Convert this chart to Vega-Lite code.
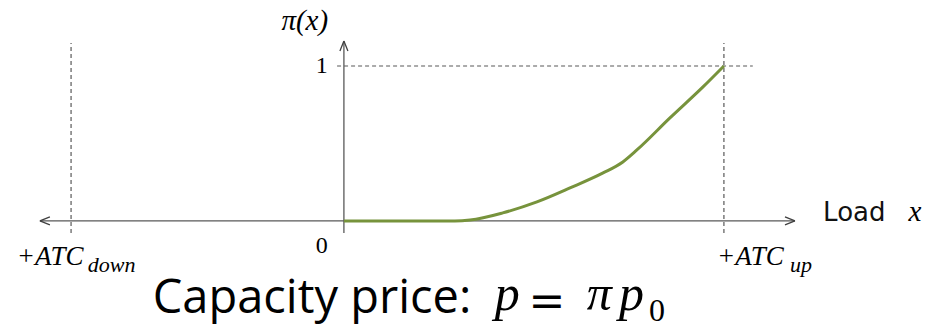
{
  "$schema": "https://vega.github.io/schema/vega-lite/v6.json",
  "width": 939,
  "height": 324,
  "autosize": "none",
  "padding": 0,
  "background": "white",
  "config": {"view": {"stroke": null}},
  "datasets": {
    "axes": [
      {"x": -0.8, "x2": 1.187, "y": 0, "y2": 0},
      {"x": 0, "x2": 0, "y": -0.077, "y2": 1.161}
    ],
    "dashes": [
      {"x": -0.718, "x2": -0.718, "y": -0.077, "y2": 1.148},
      {"x": 1, "x2": 1, "y": -0.077, "y2": 1.148},
      {"x": -0.018, "x2": 1.076, "y": 1, "y2": 1}
    ],
    "curve": [
      {"x": 0, "y": 0},
      {"x": 0.292, "y": 0},
      {"x": 0.332, "y": 0.006},
      {"x": 0.418, "y": 0.052},
      {"x": 0.508, "y": 0.123},
      {"x": 0.595, "y": 0.213},
      {"x": 0.682, "y": 0.31},
      {"x": 0.734, "y": 0.381},
      {"x": 0.771, "y": 0.458},
      {"x": 0.858, "y": 0.665},
      {"x": 0.945, "y": 0.865},
      {"x": 1, "y": 1}
    ],
    "arrowLeft": [{"x": -0.8, "y": 0}],
    "arrowRight": [{"x": 1.187, "y": 0}],
    "arrowUp": [{"x": 0, "y": 1.161}],
    "mathCenter": [
      {"x": -0.103, "y": 1.23, "t": "π(x)"},
      {"x": 1.503, "y": 0, "t": "x"}
    ],
    "mathLeft": [
      {"x": -0.861, "y": -0.284, "t": "+ATC"},
      {"x": 0.982, "y": -0.284, "t": "+ATC"}
    ],
    "subs": [
      {"x": -0.674, "y": -0.329, "t": "down"},
      {"x": 1.174, "y": -0.329, "t": "up"}
    ],
    "digits": [
      {"x": -0.058, "y": 0.955, "t": "1"},
      {"x": -0.058, "y": -0.21, "t": "0"}
    ],
    "load": [{"x": 1.261, "y": 0, "t": "Load"}],
    "caption": [{"x": -0.503, "y": -0.594, "t": "Capacity price:"}],
    "formula": [
      {"x": 0.397, "y": -0.574, "t": "p"},
      {"x": 0.639, "y": -0.574, "t": "π"},
      {"x": 0.724, "y": -0.574, "t": "p"}
    ],
    "equals": [{"x": 0.534, "y": -0.613, "t": "="}],
    "formulaSub": [{"x": 0.803, "y": -0.645, "t": "0"}]
  },
  "encoding": {
    "x": {"field": "x", "type": "quantitative", "scale": {"domain": [-0.905, 1.566], "nice": false, "zero": false}, "axis": null},
    "y": {"field": "y", "type": "quantitative", "scale": {"domain": [-0.665, 1.426], "nice": false, "zero": false}, "axis": null}
  },
  "layer": [
    {
      "data": {"name": "axes"},
      "mark": {"type": "rule", "color": "#595959", "strokeWidth": 1.3},
      "encoding": {"x2": {"field": "x2"}, "y2": {"field": "y2"}}
    },
    {
      "data": {"name": "dashes"},
      "mark": {"type": "rule", "color": "#595959", "strokeWidth": 1.2, "strokeDash": [4, 3]},
      "encoding": {"x2": {"field": "x2"}, "y2": {"field": "y2"}}
    },
    {
      "data": {"name": "curve"},
      "mark": {"type": "line", "color": "#77933C", "strokeWidth": 3, "interpolate": "monotone"}
    },
    {
      "data": {"name": "arrowLeft"},
      "mark": {"type": "point", "shape": "M0,0L1,-0.4M0,0L1,0.4", "size": 400, "filled": false, "stroke": "#404040", "strokeWidth": 1.3, "angle": 0, "opacity": 1}
    },
    {
      "data": {"name": "arrowRight"},
      "mark": {"type": "point", "shape": "M0,0L1,-0.4M0,0L1,0.4", "size": 400, "filled": false, "stroke": "#404040", "strokeWidth": 1.3, "angle": 180, "opacity": 1}
    },
    {
      "data": {"name": "arrowUp"},
      "mark": {"type": "point", "shape": "M0,0L1,-0.4M0,0L1,0.4", "size": 400, "filled": false, "stroke": "#404040", "strokeWidth": 1.3, "angle": 90, "opacity": 1}
    },
    {
      "data": {"name": "mathCenter"},
      "mark": {"type": "text", "font": "Liberation Serif", "fontStyle": "italic", "fontSize": 29, "color": "#000", "align": "center", "baseline": "alphabetic"},
      "encoding": {"text": {"field": "t"}}
    },
    {
      "data": {"name": "mathLeft"},
      "mark": {"type": "text", "font": "Liberation Serif", "fontStyle": "italic", "fontSize": 27, "color": "#000", "align": "left", "baseline": "alphabetic"},
      "encoding": {"text": {"field": "t"}}
    },
    {
      "data": {"name": "subs"},
      "mark": {"type": "text", "font": "Liberation Serif", "fontStyle": "italic", "fontSize": 22, "color": "#000", "align": "left", "baseline": "alphabetic"},
      "encoding": {"text": {"field": "t"}}
    },
    {
      "data": {"name": "digits"},
      "mark": {"type": "text", "font": "Liberation Serif", "fontSize": 24, "color": "#000", "align": "center", "baseline": "alphabetic"},
      "encoding": {"text": {"field": "t"}}
    },
    {
      "data": {"name": "load"},
      "mark": {"type": "text", "font": "DejaVu Sans", "fontSize": 26, "color": "#111", "align": "left", "baseline": "alphabetic"},
      "encoding": {"text": {"field": "t"}}
    },
    {
      "data": {"name": "caption"},
      "mark": {"type": "text", "font": "Open Sans", "fontSize": 47, "color": "#000", "align": "left", "baseline": "alphabetic"},
      "encoding": {"text": {"field": "t"}}
    },
    {
      "data": {"name": "formula"},
      "mark": {"type": "text", "font": "Liberation Serif", "fontStyle": "italic", "fontSize": 50, "color": "#000", "align": "left", "baseline": "alphabetic"},
      "encoding": {"text": {"field": "t"}}
    },
    {
      "data": {"name": "equals"},
      "mark": {"type": "text", "font": "DejaVu Serif", "fontSize": 44, "color": "#000", "align": "center", "baseline": "alphabetic"},
      "encoding": {"text": {"field": "t"}}
    },
    {
      "data": {"name": "formulaSub"},
      "mark": {"type": "text", "font": "Liberation Serif", "fontSize": 32, "color": "#000", "align": "left", "baseline": "alphabetic"},
      "encoding": {"text": {"field": "t"}}
    }
  ]
}
